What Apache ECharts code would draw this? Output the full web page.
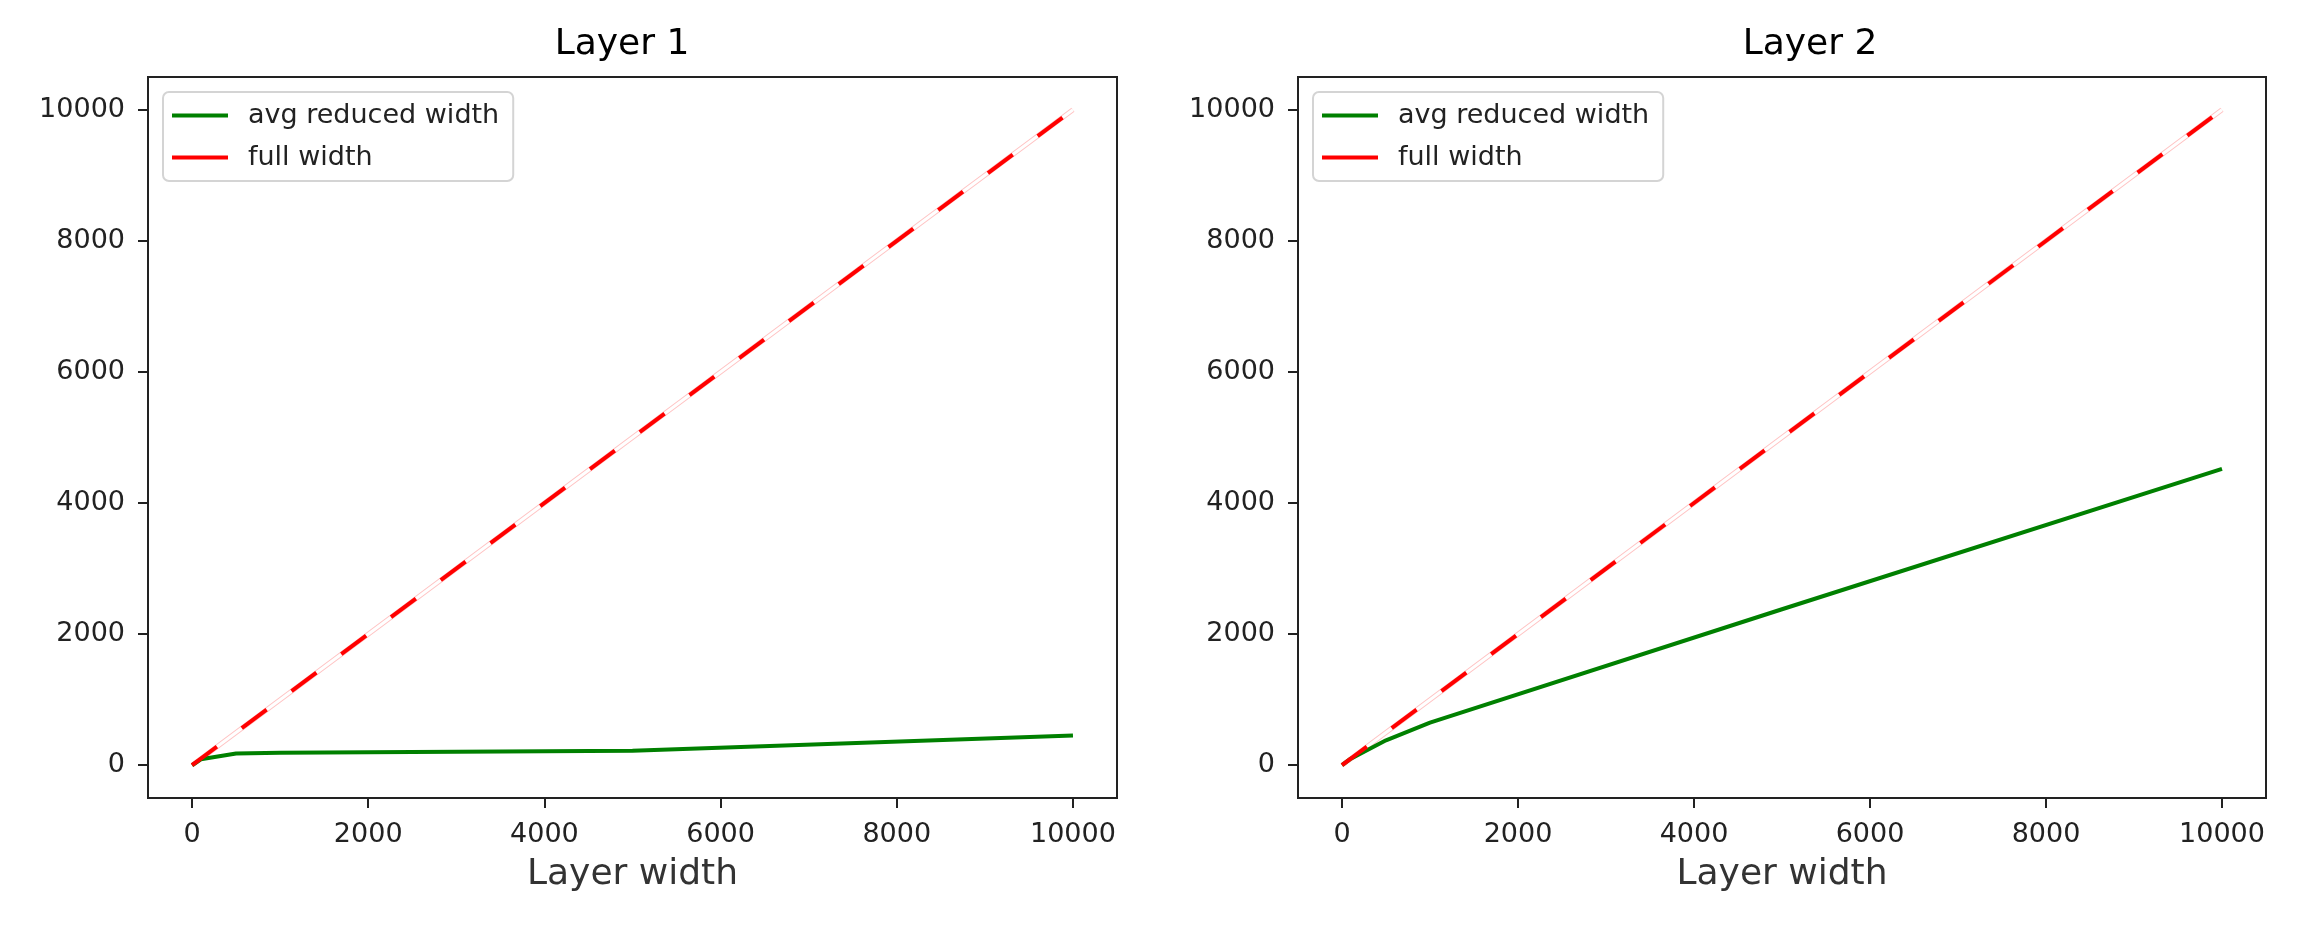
<!DOCTYPE html>
<html>
<head>
<meta charset="utf-8">
<script src="https://cdn.jsdelivr.net/npm/echarts@6/dist/echarts.min.js"></script>
<style>
html,body{margin:0;padding:0;background:#fff;}
#chart{width:2318px;height:938px;}
</style>
</head>
<body>
<div id="chart"></div>
<script>
// ---- data ----
const layerWidths = [0, 100, 500, 1000, 5000, 10000];
const layer1Reduced = [0, 90, 180, 190, 220, 455];
const layer2Reduced = [0, 100, 380, 650, 2380, 4520];
const fullWidth = [0, 100, 500, 1000, 5000, 10000];
const tickValues = [0, 2000, 4000, 6000, 8000, 10000];
const titles = ['Layer 1', 'Layer 2'];
const seriesNames = ['avg reduced width', 'full width'];
const xLabel = 'Layer width';

const pairs = (xs, ys) => xs.map((x, i) => [x, ys[i]]);
const plain = v => String(v);

const FONT = 'DejaVu Sans';
const gridsPos = [
  {left: 148, top: 77, width: 969, height: 721},
  {left: 1298, top: 77, width: 968, height: 721}
];
const titleCenters = [622, 1810];
const legendLefts = [163, 1313];
const reduced = [layer1Reduced, layer2Reduced];

const option = {
  backgroundColor: '#fff',
  animation: false,
  title: titles.map((t, i) => ({
    text: t, left: titleCenters[i], top: 27, textAlign: 'center', padding: 0,
    textStyle: {fontFamily: FONT, fontSize: 36, fontWeight: 'normal', color: '#000'}
  })),
  legend: legendLefts.map((l, i) => ({
    data: seriesNames, left: l, top: 92, orient: 'vertical', align: 'left',
    icon: 'rect', itemWidth: 56, itemHeight: 4, itemGap: 15,
    padding: [10, 14, 10, 9],
    backgroundColor: '#fff', borderColor: '#d4d4d4', borderWidth: 2, borderRadius: 6,
    textStyle: {fontFamily: FONT, fontSize: 27, color: '#222', lineHeight: 26, padding: [0, 0, 0, 15]}
  })),
  grid: gridsPos.map(g => Object.assign({show: true, borderColor: '#222', borderWidth: 2, containLabel: false}, g)),
  xAxis: gridsPos.map((g, i) => ({
    type: 'value', gridIndex: i, min: -500, max: 10500,
    name: xLabel, nameLocation: 'middle', nameGap: 59,
    nameTextStyle: {fontFamily: FONT, fontSize: 36, color: '#333'},
    splitLine: {show: false},
    axisLine: {show: true, onZero: false, lineStyle: {color: '#222', width: 2}},
    axisTick: {show: true, length: 10, lineStyle: {color: '#222', width: 2}, customValues: tickValues},
    axisLabel: {fontFamily: FONT, fontSize: 27, color: '#222', margin: 23, customValues: tickValues,
      formatter: plain}
  })),
  yAxis: gridsPos.map((g, i) => ({
    type: 'value', gridIndex: i, min: -500, max: 10500,
    splitLine: {show: false},
    axisLine: {show: true, onZero: false, lineStyle: {color: '#222', width: 2}},
    axisTick: {show: true, length: 10, lineStyle: {color: '#222', width: 2}, customValues: tickValues},
    axisLabel: {fontFamily: FONT, fontSize: 27, color: '#222', margin: 23, customValues: tickValues,
      formatter: plain}
  })),
  series: []
};

for (let i = 0; i < 2; i++) {
  option.series.push({
    name: 'full width halo', type: 'line', xAxisIndex: i, yAxisIndex: i,
    data: pairs(layerWidths, fullWidth), showSymbol: false, silent: true, z: 1,
    lineStyle: {color: '#ffc4c4', width: 5}
  });
  option.series.push({
    name: 'full width halo inner', type: 'line', xAxisIndex: i, yAxisIndex: i,
    data: pairs(layerWidths, fullWidth), showSymbol: false, silent: true, z: 2,
    lineStyle: {color: '#ffffff', width: 3}
  });
  option.series.push({
    name: seriesNames[0], type: 'line', xAxisIndex: i, yAxisIndex: i,
    data: pairs(layerWidths, reduced[i]), showSymbol: false, z: 3,
    color: '#008000', lineStyle: {color: '#008000', width: 4}
  });
  option.series.push({
    name: seriesNames[1], type: 'line', xAxisIndex: i, yAxisIndex: i,
    data: pairs(layerWidths, fullWidth), showSymbol: false, z: 4,
    color: '#ff0000', lineStyle: {color: '#ff0000', width: 4, type: [31, 31], cap: 'butt'}
  });
}

const chart = echarts.init(document.getElementById('chart'), null, {renderer: 'canvas'});
chart.setOption(option);
</script>
</body>
</html>
